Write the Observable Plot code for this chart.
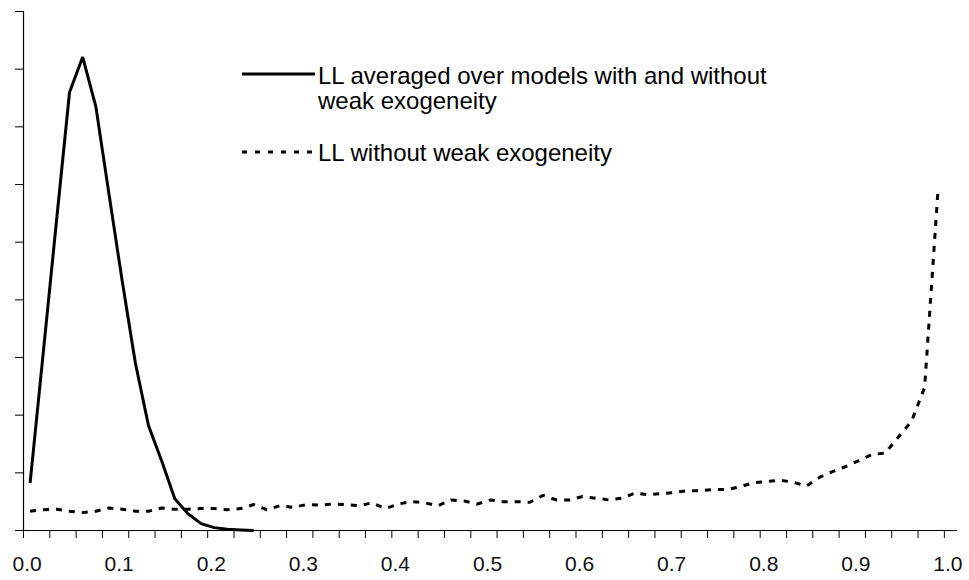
<!DOCTYPE html>
<html>
<head>
<meta charset="utf-8">
<script src="https://cdn.jsdelivr.net/npm/d3@7"></script>
<script src="https://cdn.jsdelivr.net/npm/@observablehq/plot@0.6"></script>
<style>
  html, body { margin: 0; padding: 0; background: #fff; }
  #chart { width: 969px; height: 580px; }
</style>
</head>
<body>
<div id="chart"></div>
<script>
// ---- data ----
// category axis: 71 categories 0, 1/70, ..., 1
const categoryCount = 71;
const categories = d3.range(categoryCount).map(k => k / (categoryCount - 1));
const xTickLabels = [0, 0.1, 0.2, 0.3, 0.4, 0.5, 0.6, 0.7, 0.8, 0.9, 1.0];
const yTicks = [0, 1, 2, 3, 4, 5, 6, 7, 8, 9];
const seriesNames = [
  ["LL averaged over models with and without", "weak exogeneity"],
  ["LL without weak exogeneity"]
];
// solid series
const llAveraged = [0.82, 3.08, 5.35, 7.60, 8.21, 7.35, 5.83, 4.33, 2.91, 1.82,
                    1.21, 0.55, 0.29, 0.12, 0.05, 0.02, 0.01, 0.00];
// dashed series
const llWithout = [0.335, 0.36, 0.37, 0.335, 0.31, 0.335, 0.39, 0.37, 0.335, 0.335,
                   0.39, 0.37, 0.37, 0.38, 0.38, 0.36, 0.38, 0.45, 0.36, 0.43,
                   0.40, 0.45, 0.44, 0.46, 0.45, 0.43, 0.48, 0.38, 0.46, 0.50,
                   0.48, 0.43, 0.53, 0.51, 0.46, 0.53, 0.50, 0.50, 0.49, 0.61,
                   0.53, 0.53, 0.59, 0.56, 0.53, 0.56, 0.65, 0.62, 0.64, 0.66,
                   0.69, 0.69, 0.71, 0.71, 0.76, 0.83, 0.85, 0.87, 0.84, 0.77,
                   0.92, 1.02, 1.11, 1.21, 1.32, 1.34, 1.62, 1.89, 2.48, 5.84];

// ---- derived ----
const step = 1 / (categoryCount - 1);
const xMin = -step / 2, xMax = 1 + step / 2;
// tick marks at category boundaries, every 2 categories
const xMinorTicks = d3.range(0, categoryCount, 2).map(k => ({x: (k - 0.5) * step, y: 0}));

const solidData = llAveraged.map((v, k) => ({x: categories[k], y: v}));
const dashedData = llWithout.map((v, k) => ({x: categories[k], y: v}));

const font = "'Liberation Sans', Arial, Helvetica, sans-serif";

const plot = Plot.plot({
  width: 969,
  height: 580,
  marginLeft: 23,
  marginRight: 12,
  marginTop: 11,
  marginBottom: 50,
  style: {fontFamily: font, background: "#fff", color: "#000", overflow: "visible"},
  x: {domain: [xMin, xMax], label: null},
  y: {domain: [0, 9], label: null},
  marks: [
    Plot.axisY({ticks: yTicks, tickSize: 8, tickFormat: () => "", stroke: "#000", strokeOpacity: 1}),
    Plot.ruleX(xMinorTicks, {x: "x", y1: "y", insetBottom: -8, stroke: "#000", strokeWidth: 1}),
    Plot.axisX({ticks: xTickLabels, tickSize: 0, tickPadding: 26, tickFormat: d3.format(".1f"),
                fontSize: 21, fill: "#111", dx: -3}),
    Plot.ruleY([0], {stroke: "#000", strokeWidth: 1.2}),
    Plot.ruleX([xMin], {stroke: "#000", strokeWidth: 1.2}),
    Plot.line(dashedData, {x: "x", y: "y", stroke: "#000", strokeWidth: 3,
                           strokeDasharray: "6,7", strokeLinecap: "butt", strokeLinejoin: "miter"}),
    Plot.line(solidData, {x: "x", y: "y", stroke: "#000", strokeWidth: 3,
                          strokeLinecap: "butt", strokeLinejoin: "miter"})
  ]
});

// ---- legend (inside plot area, top middle) ----
const svg = d3.select(plot);
const lg = svg.append("g")
  .attr("font-family", font)
  .attr("font-size", 24)
  .attr("text-anchor", "start")
  .attr("fill", "#000");
const legendItems = [
  {lines: seriesNames[0], dash: null, lineY: 74, baseline: 83.5},
  {lines: seriesNames[1], dash: "5,8", lineY: 152, baseline: 161}
];
legendItems.forEach(item => {
  lg.append("line")
    .attr("x1", 242).attr("x2", item.dash ? 318 : 315)
    .attr("y1", item.lineY).attr("y2", item.lineY)
    .attr("stroke", "#000").attr("stroke-width", 3)
    .attr("stroke-dasharray", item.dash);
  const t = lg.append("text").attr("x", 318).attr("y", item.baseline)
    .attr("text-anchor", "start");
  item.lines.forEach((s, i) => {
    t.append("tspan").attr("x", 318).attr("dy", i === 0 ? 0 : 25.5).text(s);
  });
});

document.getElementById("chart").appendChild(plot);
</script>
</body>
</html>
